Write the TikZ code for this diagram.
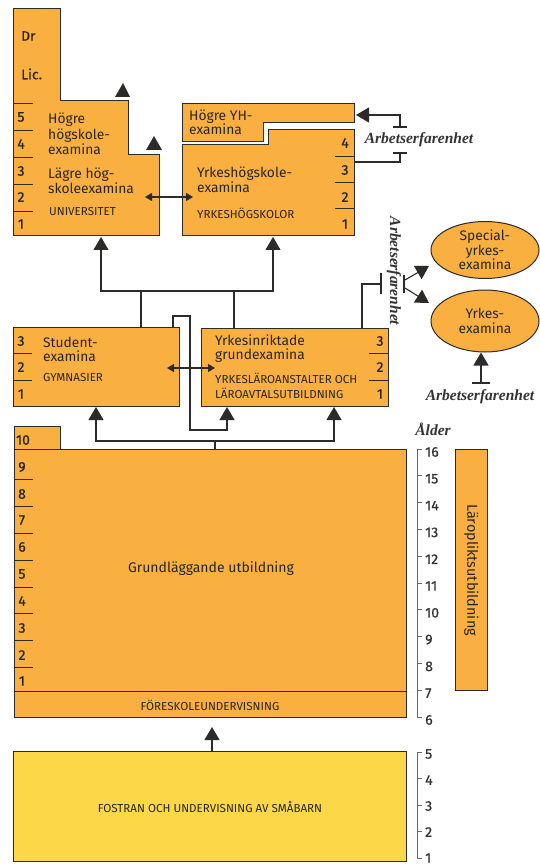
\documentclass[tikz,border=0pt]{standalone}
\usepackage{fontspec}
\setmainfont{Fira Sans}
\newfontfamily\serifit{Liberation Serif}
\newfontfamily\medfont{Fira Sans}[FakeBold=0.8]
\usetikzlibrary{arrows.meta,shapes.geometric}
\definecolor{orng}{RGB}{250,176,64}
\definecolor{ylw}{RGB}{252,216,72}
\definecolor{linec}{RGB}{45,42,42}
\tikzset{
  box/.style={draw=linec, fill=orng, line width=1pt},
  conn/.style={draw=linec, line width=1.1pt},
  bigarr/.style={conn, -{Triangle[length=13pt,width=15pt]}},
  dblarr/.style={conn, {Triangle[length=7pt,width=8pt]}-{Triangle[length=7pt,width=8pt]}},
  tri/.style={fill=linec, draw=none},
  title/.style={font=\fontsize{13.8}{15.5}\selectfont, align=left, anchor=west, inner sep=0pt, text=black!85},
  caps/.style={font=\fontsize{11.6}{15}\selectfont, align=left, anchor=west, inner sep=0pt, text=black!85},
  num/.style={font=\medfont\fontsize{14}{15}\selectfont, inner sep=0pt, text=black!85},
  agenum/.style={font=\medfont\fontsize{14}{15}\selectfont, inner sep=0pt, anchor=west, text=black!80},
  work/.style={font=\serifit\fontsize{15.5}{17}\selectfont\bfseries\itshape, inner sep=0pt, text=black!80},
  divl/.style={draw=linec, line width=0.9pt},
  scl/.style={draw=black!60, line width=1pt},
}
\begin{document}
\begin{tikzpicture}[x=1pt,y=-1pt]
\useasboundingbox (0,0) rectangle (539,866);

% ---------- Universitet ----------
\draw[box] (13,9) -- (60,9) -- (60,101) -- (128,101) -- (128,155) -- (159,155) -- (159,236) -- (13,236) -- cycle;
\foreach \y in {103,130,157,184,211} \draw[divl] (13,\y) -- (33,\y);
\foreach \n/\y in {5/117,4/144,3/171,2/197,1/224} \node[num] (u\n) at (21,\y) {\n};
\node[title, font=\medfont\fontsize{13.8}{15}\selectfont] (dr) at (21,36) {Dr};
\node[title, font=\medfont\fontsize{13.8}{15}\selectfont] (lic) at (21,74) {Lic.};
\node[title] (hog) at (48,134) {Högre\\högskole-\\examina};
\node[title] (lag) at (48,181) {Lägre hög-\\skoleexamina};
\node[caps] (univ) at (49,212) {UNIVERSITET};
\fill[tri] (123,83) -- (115,97) -- (130,97) -- cycle;
\fill[tri] (154,136) -- (146,150) -- (162,150) -- cycle;
\coordinate (ubot) at (101,237);
\coordinate (uright) at (145,197);

% ---------- Högre YH ----------
\draw[box] (182,104) -- (354,104) -- (354,123) -- (263,123) -- (263,142) -- (182,142) -- cycle;
\node[title, font=\fontsize{13.8}{14}\selectfont] (yh) at (189,122) {Högre YH-\\examina};
\coordinate (yhright) at (356,115);

% ---------- Yrkeshögskolor ----------
\draw[box] (182,145) -- (268,145) -- (268,130) -- (354,130) -- (354,236) -- (182,236) -- cycle;
\foreach \y in {156,182,208} \draw[divl] (335,\y) -- (354,\y);
\foreach \n/\y in {4/143,3/170,2/197,1/224} \node[num] (y\n) at (345,\y) {\n};
\node[title] (yhs) at (197,180) {Yrkeshögskole-\\examina};
\node[caps] (yhsk) at (197,213) {YRKESHÖGSKOLOR};
\coordinate (yhsbot) at (273,237);
\coordinate (yhsleft) at (193,197);
\coordinate (yhsr3) at (354,162);

\draw[dblarr] (uright) -- (yhsleft);

% Arbetserfarenhet top right
\coordinate (t1) at (400,127);
\coordinate (t2) at (400,153);
\draw[bigarr] (t1) -- (400,115) -- (yhright);
\draw[conn] (393,127) -- (407,127);
\node[work] (arb1) at (419,140) {Arbetserfarenhet};
\draw[conn] (393,153) -- (407,153);
\draw[conn] (t2) -- (400,162) -- (yhsr3);

% ---------- Gymnasier ----------
\node[box, minimum width=166pt, minimum height=79pt, inner sep=0pt, anchor=north west] (gym) at (13,327) {};
\foreach \y in {353,380} \draw[divl] (13,\y) -- (32,\y);
\foreach \n/\y in {3/341,2/367,1/394} \node[num] (g\n) at (21,\y) {\n};
\node[title, font=\fontsize{13.8}{14}\selectfont] (stud) at (43,349) {Student-\\examina};
\node[caps] (gymn) at (43,378) {GYMNASIER};

% ---------- Yrkesläroanstalter ----------
\node[box, minimum width=187pt, minimum height=78pt, inner sep=0pt, anchor=north west] (yrk) at (201,328) {};
\foreach \y in {353,380} \draw[divl] (369,\y) -- (388,\y);
\foreach \n/\y in {3/341,2/367,1/394} \node[num] (k\n) at (380,\y) {\n};
\node[title, font=\fontsize{13.8}{14}\selectfont] (yrkt) at (215,349) {Yrkesinriktade\\grundexamina};
\node[caps] (yrkc1) at (215,378) {YRKESLÄROANSTALTER OCH};
\node[caps] (yrkc2) at (215,393) {LÄROAVTALSUTBILDNING};

\draw[dblarr] (167,368) -- (215,368);

% connectors to higher education
\coordinate (gtop) at (141,327);
\coordinate (ktop) at (234,328);
\draw[conn] (gtop) -- (141,291);
\draw[conn] (ktop) -- (234,291);
\draw[bigarr] (141,291) -- (101,291) -- (ubot);
\draw[bigarr] (141,291) -- (273,291) -- (yhsbot);

% loop from gymnasium to vocational
\draw[bigarr] (173,327) -- (173,316) -- (190,316) -- (190,430) -- (227,430) -- (227,407);

% vocational to work experience / special exams
\draw[conn] (362,328) -- (362,284) -- (381,284);
\draw[conn] (381,273) -- (381,294);
\node[work, rotate=-90] (arb2) at (394,271) {Arbetserfarenhet};
\draw[conn] (404,275) -- (404,293);
\node[ellipse, box, minimum width=108pt, minimum height=57pt, inner sep=0pt, align=center, font=\fontsize{13.8}{14.5}\selectfont, text=black!85] (spec) at (485,250) {Special-\\yrkes-\\examina};
\node[ellipse, box, minimum width=108pt, minimum height=62pt, inner sep=0pt, align=center, font=\fontsize{13.8}{14.5}\selectfont, text=black!85] (yex) at (485,321) {Yrkes-\\examina};
\draw[bigarr] (405,280) -- (429,266);
\draw[bigarr] (405,288) -- (429,303);
\draw[bigarr] (481,383) -- (yex.south -| 481,0);
\draw[conn] (472,383) -- (490,383);
\node[work] (arb3) at (480,397) {Arbetserfarenhet};

% ---------- Grundläggande ----------
\draw[box] (14,426) -- (60,426) -- (60,449) -- (406,449) -- (406,717) -- (14,717) -- cycle;
\draw[divl] (14,449) -- (60,449);
\draw[divl] (14,691) -- (406,691);
\foreach \y in {479,506,533,560,587,613,640,667} \draw[divl] (14,\y) -- (33,\y);
\node[num] (n10) at (23,440) {10};
\foreach \n/\y in {9/467,8/494,7/520,6/547,5/574,4/601,3/628,2/655,1/681} \node[num] (n\n) at (22,\y) {\n};
\node[font=\fontsize{14}{16}\selectfont, text=black!85] (grund) at (211,569) {Grundläggande utbildning};
\node[caps, anchor=center] (fore) at (210,705) {FÖRESKOLEUNDERVISNING};

\coordinate (grtop) at (215,449);
\draw[conn] (grtop) -- (215,441);
\draw[bigarr] (215,441) -- (96,441) -- (96,407);
\draw[bigarr] (215,441) -- (334,441) -- (334,407);

% ---------- Age scale ----------
\node[work] (alder) at (433,429) {Ålder};
\draw[scl] (422,449) -- (417,449) -- (417,717) -- (422,717);
\foreach \a in {7,...,15} \draw[scl] (417,{449+(16-\a)*26.8}) -- (422,{449+(16-\a)*26.8});
\foreach \a in {6,...,16} \node[agenum] (age\a) at (425,{452+(16-\a)*26.8}) {\a};

\node[box, minimum width=32pt, minimum height=241pt, inner sep=0pt, anchor=north west] (lpl) at (455,449) {};
\node[rotate=-90, font=\fontsize{14.4}{15}\selectfont, text=black!85] (lpltxt) at (lpl.center) {Läroplikts\-utbildning};

% ---------- Småbarn ----------
\node[box, fill=ylw, minimum width=393pt, minimum height=110pt, inner sep=0pt, anchor=north west] (smab) at (13,751) {};
\node[caps, anchor=center] (smabt) at (smab.center) {FOSTRAN OCH UNDERVISNING AV SMÅBARN};
\draw[bigarr] (smab.north -| 212,0) -- (212,727);

\draw[scl] (422,752) -- (417,752) -- (417,858) -- (422,858);
\foreach \a in {2,3,4} \draw[scl] (417,{752+(5-\a)*26.5}) -- (422,{752+(5-\a)*26.5});
\foreach \a in {1,...,5} \node[agenum] (lage\a) at (425,{754+(5-\a)*26}) {\a};
\end{tikzpicture}
\end{document}
